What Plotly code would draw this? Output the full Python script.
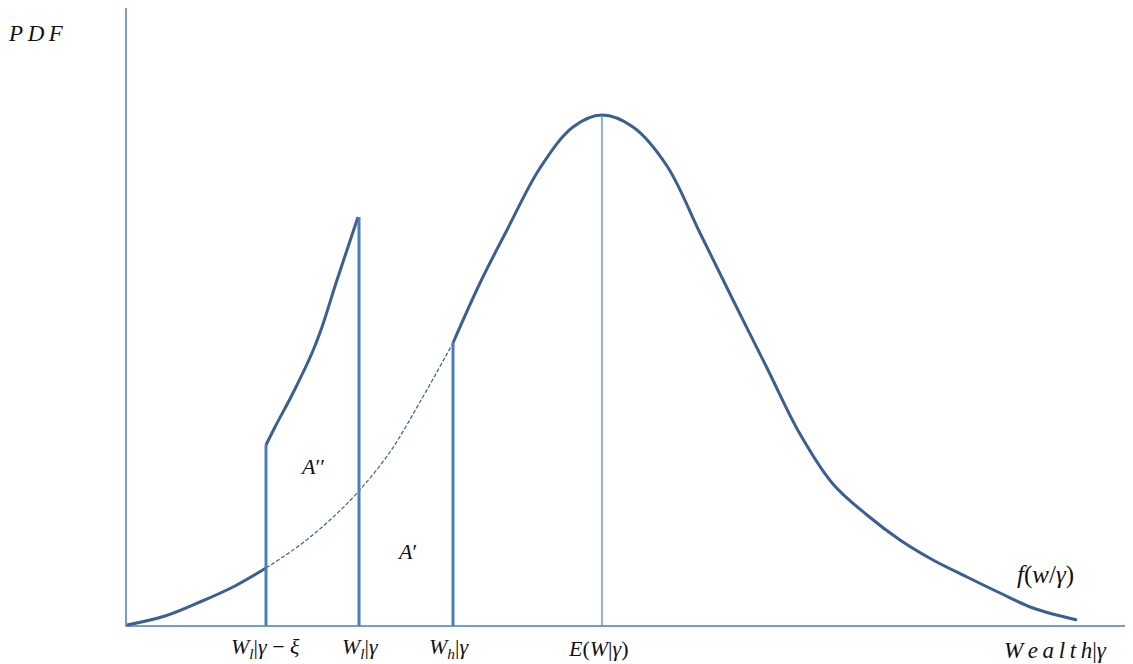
import plotly.graph_objects as go

# ---- data (wealth units = horizontal offset from origin, pdf units = vertical offset) ----
# main density f(w|gamma): left solid part
left_x = [2, 40, 75, 110, 141]
left_y = [1, 10, 24, 40, 58]
# dashed (original density hidden under the spike)
dash_x = [141, 175, 205, 233, 265, 295, 328]
dash_y = [58, 81, 106, 134, 174, 224, 283]
# main density right solid part
right_x = [328, 355, 382, 415, 448, 477, 508, 542, 575, 608, 642, 675, 708, 742,
           775, 808, 842, 875, 908, 952]
right_y = [283, 343, 396, 458, 499, 511, 499, 460, 393, 326, 258, 192, 142, 111,
           86, 66, 49, 33, 18, 6]
# spike (mass shifted to just below the threshold)
spike_x = [141, 150, 168, 187, 197, 212, 233]
spike_y = [181, 199, 233, 273, 299, 346, 409]
# vertical markers: position and height
bar_x = [141, 234, 328]
bar_top = [181, 409, 283]
mean_x = 477
mean_top = 511

tick_pos = [140, 235, 324, 473]
tick_labels = ["<i>W<sub>l</sub></i>|<i>γ</i> − <i>ξ</i>",
               "<i>W<sub>l</sub></i>|<i>γ</i>",
               "<i>W<sub>h</sub></i>|<i>γ</i>",
               "<i>E</i>(<i>W</i>|<i>γ</i>)"]

DARK = "#3B5F8E"
MID = "#4A7EBB"
TS = "\u2009"

fig = go.Figure()

# axes
fig.add_trace(go.Scatter(x=[1, 1, 1008], y=[618, 0, 0], mode="lines",
                         line=dict(color=MID, width=1.5), hoverinfo="skip"))

fig.add_trace(go.Scatter(x=left_x, y=left_y, mode="lines",
                         line=dict(color=DARK, width=3, shape="spline"), hoverinfo="skip"))
fig.add_trace(go.Scatter(x=dash_x, y=dash_y, mode="lines",
                         line=dict(color=DARK, width=1.2, dash="4px,2px", shape="spline"),
                         hoverinfo="skip"))
fig.add_trace(go.Scatter(x=right_x, y=right_y, mode="lines",
                         line=dict(color=DARK, width=3, shape="spline"), hoverinfo="skip"))
fig.add_trace(go.Scatter(x=spike_x, y=spike_y, mode="lines",
                         line=dict(color=DARK, width=3, shape="spline"), hoverinfo="skip"))

for bx, bt in zip(bar_x, bar_top):
    fig.add_trace(go.Scatter(x=[bx, bx], y=[0, bt], mode="lines",
                             line=dict(color=MID, width=3), hoverinfo="skip"))
fig.add_trace(go.Scatter(x=[mean_x, mean_x], y=[0, mean_top], mode="lines",
                         line=dict(color=MID, width=1.2), hoverinfo="skip"))

FONT = "Liberation Serif"
ann = []
for tp, tl in zip(tick_pos, tick_labels):
    ann.append(dict(x=tp, y=-22, text=tl, showarrow=False,
                    font=dict(family=FONT, size=22, color="#111")))
ann.append(dict(x=930, y=-24, text="<i>" + TS.join("Wealth") + "</i>|<i>γ</i>", showarrow=False,
                font=dict(family=FONT, size=23, color="#111")))
ann.append(dict(x=-89, y=593, text="<i>" + TS.join("PDF") + "</i>", showarrow=False,
                font=dict(family=FONT, size=23, color="#111")))
ann.append(dict(x=920, y=51, text="<i>f</i>(<i>w</i>/<i>γ</i>)", showarrow=False,
                font=dict(family=FONT, size=25, color="#111")))
ann.append(dict(x=187, y=160, text="<i>A</i>′′", showarrow=False,
                font=dict(family=FONT, size=22, color="#111")))
ann.append(dict(x=282, y=75, text="<i>A</i>′", showarrow=False,
                font=dict(family=FONT, size=22, color="#111")))

# the page body adds an 8px margin, so the figure is 8px smaller and its range starts 8px in
fig.update_layout(
    width=1125, height=656,
    margin=dict(l=0, r=0, t=0, b=0),
    paper_bgcolor="white", plot_bgcolor="white",
    showlegend=False,
    xaxis=dict(range=[-117, 1008], visible=False, fixedrange=True),
    yaxis=dict(range=[-38, 618], visible=False, fixedrange=True),
    annotations=ann,
)

fig.write_html("out.html")
